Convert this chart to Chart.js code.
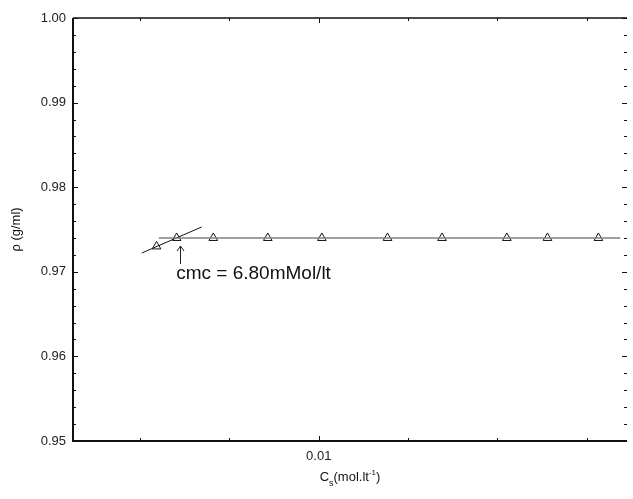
<!DOCTYPE html>
<html>
<head>
<meta charset="utf-8">
<script src="https://cdn.jsdelivr.net/npm/chart.js@4/dist/chart.umd.min.js"></script>
<style>
  html, body { margin: 0; padding: 0; background: #fff; }
  #wrap { width: 633px; height: 499px; }
</style>
</head>
<body>
<div id="wrap"><canvas id="chart"></canvas></div>
<script>
// Data
const concentration = [0.00637, 0.00682, 0.00764, 0.00886, 0.01007, 0.01154, 0.01276, 0.01421, 0.01512, 0.01626];
const density = [0.973, 0.974, 0.974, 0.974, 0.974, 0.974, 0.974, 0.974, 0.974, 0.974];

// Fitted lines
const plateauX = [0.00642, 0.01675];
const plateauY = [0.974, 0.974];
const riseX = [0.00604, 0.00738];
const riseY = [0.97222, 0.97530];

// Axis ticks
const yTicks = [0.95, 0.96, 0.97, 0.98, 0.99, 1.00];
const xTicks = [0.006, 0.008, 0.01, 0.012, 0.014, 0.016];
const xLabelled = [0.01];

// Annotation
const cmcText = 'cmc = 6.80mMol/lt';
const cmcX = 0.0069;
const cmcArrowFrom = 0.97092;
const cmcArrowTo = 0.97305;
const cmcTextX = 0.00681;
const cmcTextY = 0.96915;

const FONT = '"Liberation Sans", Arial, sans-serif';

const toPoints = (xs, ys) => xs.map((x, i) => ({ x, y: ys[i] }));

// Frame, inward ticks, titles and the cmc note
const framePlugin = {
    id: 'frame',
    afterDraw(chart) {
        const { ctx, chartArea: a, scales } = chart;
        const xs = scales.x, ys = scales.y;
        ctx.save();
        ctx.strokeStyle = '#111';

        // Box
        ctx.lineWidth = 2;
        ctx.beginPath();
        ctx.moveTo(a.left, a.top); ctx.lineTo(a.left, a.bottom); ctx.lineTo(a.right, a.bottom);
        ctx.stroke();
        ctx.lineWidth = 1.5;
        ctx.beginPath();
        ctx.moveTo(a.left, a.top); ctx.lineTo(a.right, a.top);
        ctx.stroke();

        // Y ticks (major + 4 minor), both sides, pointing inward
        ctx.lineWidth = 1;
        for (let i = 0; i < yTicks.length; i++) {
            const vals = [{ v: yTicks[i], len: 5 }];
            if (i < yTicks.length - 1) {
                const step = (yTicks[i + 1] - yTicks[i]) / 5;
                for (let k = 1; k < 5; k++) vals.push({ v: yTicks[i] + step * k, len: 3 });
            }
            vals.forEach(t => {
                const py = Math.round(ys.getPixelForValue(t.v)) + 0.5;
                ctx.beginPath();
                ctx.moveTo(a.left, py); ctx.lineTo(a.left + t.len, py);
                ctx.moveTo(a.right, py); ctx.lineTo(a.right - t.len, py);
                ctx.stroke();
            });
        }

        // X ticks top and bottom
        xTicks.forEach(v => {
            const px = Math.round(xs.getPixelForValue(v)) + 0.5;
            const len = xLabelled.includes(v) ? 5 : 3;
            ctx.beginPath();
            ctx.moveTo(px, a.bottom); ctx.lineTo(px, a.bottom - len);
            ctx.moveTo(px, a.top); ctx.lineTo(px, a.top + len);
            ctx.stroke();
        });

        // cmc arrow
        const ax = Math.round(xs.getPixelForValue(cmcX)) + 0.5;
        const ay0 = ys.getPixelForValue(cmcArrowFrom);
        const ay1 = ys.getPixelForValue(cmcArrowTo);
        ctx.strokeStyle = '#222';
        ctx.beginPath();
        ctx.moveTo(ax, ay0); ctx.lineTo(ax, ay1);
        ctx.moveTo(ax - 3.5, ay1 + 5); ctx.lineTo(ax, ay1); ctx.lineTo(ax + 3.5, ay1 + 5);
        ctx.stroke();

        ctx.fillStyle = '#111';
        ctx.font = '19px ' + FONT;
        ctx.textBaseline = 'alphabetic';
        ctx.textAlign = 'left';
        ctx.fillText(cmcText, xs.getPixelForValue(cmcTextX), ys.getPixelForValue(cmcTextY));

        // Y title
        ctx.save();
        ctx.translate(20, (a.top + a.bottom) / 2);
        ctx.rotate(-Math.PI / 2);
        ctx.textAlign = 'center';
        ctx.font = '13px ' + FONT;
        ctx.fillText('\u03c1 (g/ml)', 0, 0);
        ctx.restore();

        // X title with sub/superscript
        const parts = [
            { t: 'C', f: 13, dy: 0 },
            { t: 's', f: 9, dy: 5 },
            { t: '(mol.lt', f: 13, dy: 0 },
            { t: '-1', f: 8, dy: -6 },
            { t: ')', f: 13, dy: 0 }
        ];
        let total = 0;
        parts.forEach(p => { ctx.font = p.f + 'px ' + FONT; p.w = ctx.measureText(p.t).width; total += p.w; });
        let cx = (a.left + a.right) / 2 - total / 2;
        const base = 481;
        parts.forEach(p => {
            ctx.font = p.f + 'px ' + FONT;
            ctx.fillText(p.t, cx, base + p.dy);
            cx += p.w;
        });
        ctx.restore();
    }
};

new Chart(document.getElementById('chart'), {
    type: 'scatter',
    data: {
        datasets: [
            {
                label: 'plateau',
                data: toPoints(plateauX, plateauY),
                showLine: true,
                borderColor: '#808080',
                borderWidth: 1.5,
                pointRadius: 0
            },
            {
                label: 'rise',
                data: toPoints(riseX, riseY),
                showLine: true,
                borderColor: '#111',
                borderWidth: 1,
                pointRadius: 0
            },
            {
                label: 'density',
                data: toPoints(concentration, density),
                showLine: false,
                pointStyle: 'triangle',
                pointRadius: 5,
                pointBorderWidth: 1,
                pointBorderColor: '#111',
                pointBackgroundColor: '#fff'
            }
        ]
    },
    options: {
        responsive: true,
        maintainAspectRatio: false,
        animation: false,
        layout: { padding: { top: 18, right: 1, left: 0, bottom: 0 } },
        plugins: { legend: { display: false }, tooltip: { enabled: false } },
        scales: {
            x: {
                type: 'linear',
                min: 0.0045,
                max: 0.0169,
                afterFit: s => { s.height = 58; },
                afterBuildTicks: s => { s.ticks = xLabelled.map(v => ({ value: v })); },
                grid: { display: false, drawTicks: false },
                border: { display: false },
                ticks: {
                    padding: 8,
                    color: '#222',
                    font: { family: FONT, size: 13 },
                    callback: v => String(v)
                }
            },
            y: {
                min: 0.95,
                max: 1.00,
                afterFit: s => { s.width = 73; },
                afterBuildTicks: s => { s.ticks = yTicks.map(v => ({ value: v })); },
                grid: { display: false, drawTicks: false },
                border: { display: false },
                ticks: {
                    padding: 7,
                    color: '#222',
                    font: { family: FONT, size: 13 },
                    callback: v => v.toFixed(2)
                }
            }
        }
    },
    plugins: [framePlugin]
});
</script>
</body>
</html>
